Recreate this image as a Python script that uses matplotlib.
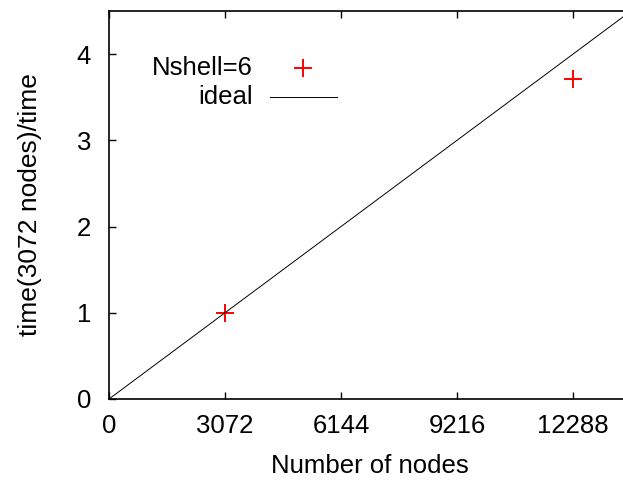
import matplotlib.pyplot as plt
from matplotlib.lines import Line2D

plt.rcParams['font.family'] = ['Liberation Sans', 'DejaVu Sans']

# measured speedup relative to the 3072-node run
nodes = [3072, 12288]
speedup = [1.0, 3.71]

# ideal linear scaling
ideal_nodes = [0, 13824]
ideal_speedup = [n / 3072 for n in ideal_nodes]

xticks = [0, 3072, 6144, 9216, 12288]
yticks = [0, 1, 2, 3, 4]

fig = plt.figure(figsize=(6.23, 4.8), dpi=100)
ax = fig.add_axes([109 / 623, 81 / 480, 522 / 623, 388 / 480])

ax.plot(nodes, speedup, linestyle="none", marker="+", markersize=13,
        markeredgewidth=1.4, color="red")
ax.plot(ideal_nodes, ideal_speedup, color="black", linewidth=0.7)

ax.set_xlim(0, 13824)
ax.set_ylim(0, 4.5)
ax.set_xticks(xticks)
ax.set_yticks(yticks)
ax.tick_params(direction="in", length=5, width=1, labelsize=18.5,
               top=True, right=True)
ax.tick_params(axis="x", pad=11)
ax.tick_params(axis="y", pad=13)
for s in ax.spines.values():
    s.set_linewidth(1.2)

ax.set_xlabel("Number of nodes", fontsize=18.5, labelpad=11)
ax.set_ylabel("time(3072 nodes)/time", fontsize=19)
ax.yaxis.set_label_coords(-0.128, 0.5)

# gnuplot-style key: right-aligned labels, sample to the right
key = [("Nshell=6", 0.853, dict(linestyle="none", marker="+", markersize=13,
                                markeredgewidth=1.4, color="red")),
       ("ideal", 0.778, dict(color="black", linewidth=0.7))]
for label, ky, style in key:
    ax.text(0.276, ky, label, transform=ax.transAxes, ha="right", va="center",
            fontsize=18.5)
    if style.get("marker"):
        ax.add_line(Line2D([0.372], [ky], transform=ax.transAxes, **style))
    else:
        ax.add_line(Line2D([0.308, 0.437], [ky, ky], transform=ax.transAxes, **style))

fig.savefig("out.png", dpi=100)
